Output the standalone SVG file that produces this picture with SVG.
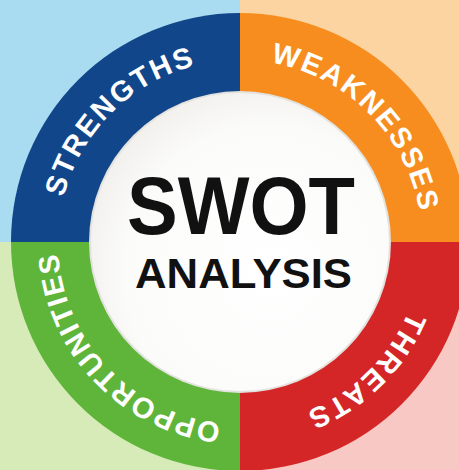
<svg xmlns="http://www.w3.org/2000/svg" width="459" height="470" viewBox="0 0 459 470">
  <defs>
    <style>
      .ring { font-family: "Liberation Sans", Arial, sans-serif; font-weight: bold; font-size: 29px; fill: #ffffff; letter-spacing: 2px; }
      .title { font-family: "Liberation Sans", Arial, sans-serif; font-weight: bold; fill: #111111; text-anchor: middle; }
    </style>
    <path id="arc" d="M422,242 A182,182 0 0 1 58,242 A182,182 0 0 1 422,242"/>
    <radialGradient id="core" cx="0.6" cy="0.6" r="0.7">
      <stop offset="0" stop-color="#ffffff"/>
      <stop offset="0.7" stop-color="#fbfbfa"/>
      <stop offset="1" stop-color="#eeece8"/>
    </radialGradient>
  </defs>

  <!-- background quadrants -->
  <rect x="0" y="0" width="240" height="242" fill="#a9dcf1"/>
  <rect x="240" y="0" width="219" height="242" fill="#fbd4a2"/>
  <rect x="0" y="242" width="240" height="228" fill="#d6ebb7"/>
  <rect x="240" y="242" width="219" height="228" fill="#f8c8c4"/>

  <g id="strengths">
    <path d="M240,242 L11,242 A229,229 0 0 1 240,13 Z" fill="#11468b"/>
    <text class="ring" text-anchor="middle"><textPath href="#arc" startOffset="715">STRENGTHS</textPath></text>
  </g>
  <g id="weaknesses">
    <path d="M240,242 L240,13 A229,229 0 0 1 469,242 Z" fill="#f78d1f"/>
    <text class="ring" text-anchor="middle"><textPath href="#arc" startOffset="1001">WEAKNESSES</textPath></text>
  </g>
  <g id="threats">
    <path d="M240,242 L469,242 A229,229 0 0 1 240,471 Z" fill="#d42626"/>
    <text class="ring" text-anchor="middle"><textPath href="#arc" startOffset="145">THREATS</textPath></text>
  </g>
  <g id="opportunities">
    <path d="M240,242 L240,471 A229,229 0 0 1 11,242 Z" fill="#5fb43a"/>
    <text class="ring" text-anchor="middle" style="letter-spacing:1.5px"><textPath href="#arc" startOffset="433">OPPORTUNITIES</textPath></text>
  </g>

  <g id="center">
    <circle cx="240" cy="242" r="151" fill="#e4e2de"/>
    <circle cx="240" cy="242" r="149" fill="url(#core)"/>
    <text class="title" x="241" y="234" font-size="82" textLength="228" lengthAdjust="spacingAndGlyphs">SWOT</text>
    <text class="title" x="243.5" y="288" font-size="43" textLength="217" lengthAdjust="spacingAndGlyphs">ANALYSIS</text>
  </g>
</svg>
